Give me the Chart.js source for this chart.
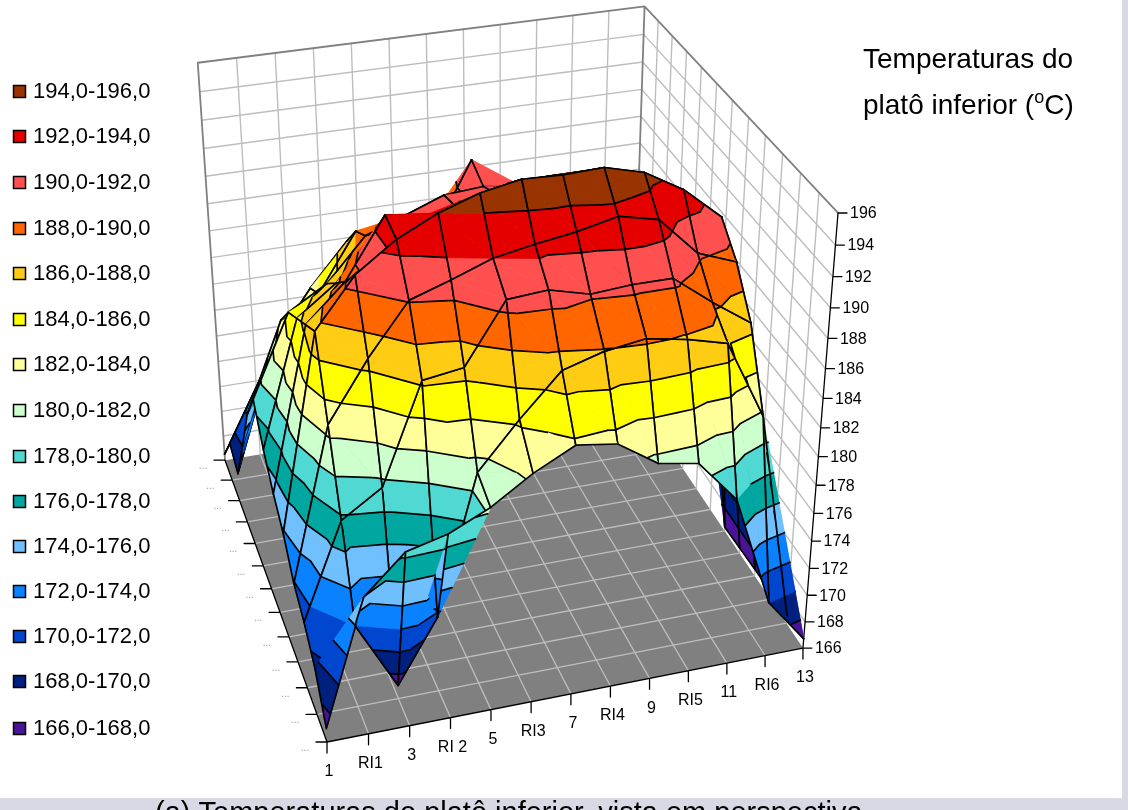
<!DOCTYPE html>
<html><head><meta charset="utf-8">
<style>html,body{margin:0;padding:0;background:#fff;overflow:hidden}canvas{display:block}</style>
<script src="https://cdn.jsdelivr.net/npm/chart.js@4/dist/chart.umd.min.js"></script>
</head><body><canvas id="c" width="1128" height="810"></canvas>
<script>
// Temperatures: one list per row of the plate, front to back
const row01=[167.0,175.9,178.5,179.2,180.5,182.3,183.7,183.3,181.5,181.0,178.0,170.0,166.7];
const row02=[169.5,172.0,167.0,171.5,181.2,184.3,187.1,187.9,188.3,187.8,187.1,181.7,166.6];
const row03=[170.9,177.7,179.5,186.3,186.7,190.7,190.9,190.2,190.4,190.4,188.4,186.6,166.5];
const row04=[171.9,182.7,186.7,190.1,191.0,192.0,192.5,192.9,193.5,192.9,190.3,189.3,166.5];
const row05=[173.8,187.5,190.8,192.7,194.0,194.9,195.4,195.3,195.4,194.7,193.2,191.0,166.4];
const row06=[175.0,186.5,189.0,193.0,192.6,192.5,193.9,194.0,194.0,193.5,191.5,189.5,166.3];
const row07=[176.6,185.5,187.5,190.5,191.0,191.5,192.0,192.0,192.0,191.5,189.5,187.0,184.0];
const row08=[178.7,184.5,186.1,189.0,190.0,191.0,191.2,190.8,190.0,189.5,187.5,185.0,182.0];
const row09=[176.0,182.5,184.0,188.0,188.0,187.0,191.8,187.0,188.0,187.5,186.0,184.0,181.0];
const row10=[172.0,179.4,183.0,186.0,186.0,186.0,186.0,186.0,186.0,186.0,185.0,183.0,180.0];
const row11=[168.2,176.3,180.0,183.0,184.0,184.0,184.0,184.0,184.0,184.0,183.0,181.0,178.0];
const row12=[169.0,174.0,177.0,180.0,181.0,181.0,181.0,181.0,181.0,181.0,180.0,178.0,175.0];
const row13=[166.5,171.0,175.0,178.0,179.0,178.0,178.0,178.0,178.0,178.0,177.0,175.0,172.0];
const categories=['1','RI1','3','RI 2','5','RI3','7','RI4','9','RI5','11','RI6','13'];
const zTicks=[166,168,170,172,174,176,178,180,182,184,186,188,190,192,194,196];
const rowLabels=['...','...','...','...','...','...','...','...','...','...','...','...','...'];
const bandLabels=['166,0-168,0','168,0-170,0','170,0-172,0','172,0-174,0','174,0-176,0','176,0-178,0','178,0-180,0','180,0-182,0','182,0-184,0','184,0-186,0','186,0-188,0','188,0-190,0','190,0-192,0','192,0-194,0','194,0-196,0'];
const bandColors=['#4A1499','#00207F','#0046CF','#0A82FF','#70C0FF','#00A6A0','#50D8D2','#CCFFCC','#FFFF99','#FFFF00','#FFCC14','#FF6600','#FF5050','#E50000','#993300'];
const legendY=[729,682,637,592,547,502,457,411,365,320,274,229,183,137,92];

const grid=[row01,row02,row03,row04,row05,row06,row07,row08,row09,row10,row11,row12,row13];
const NI=12,NJ=12,ZMIN=166,ZSPAN=30;

// perspective box -> picture coordinates
function proj(i,j,t){
  const x=i/NI,y=j/NJ,z=(t-ZMIN)/ZSPAN;
  const w=1+0.05124*x+0.1917*y-0.1083*z;
  return {x:(327+517.1*x-58.85*y-53.9*z)/w,y:(742-60.77*x-193.6*y-480.4*z)/w};
}
function depth(i,j,t){return 1+0.05124*i/NI+0.1917*j/NJ-0.1083*(t-ZMIN)/ZSPAN;}
const GAP={x:NaN,y:NaN};
const painted=[];
function poly(pts,fill,edge,bw){
  painted.push({type:'line',data:[...pts,pts[0]],backgroundColor:fill,borderColor:edge||fill,borderWidth:bw===undefined?0.7:bw,
    fill:'shape',pointRadius:0,tension:0,borderDash:[5000,1],clip:false,spanGaps:false});
}
function lines(pts,color,bw){
  painted.push({type:'line',data:pts,borderColor:color,borderWidth:bw,fill:false,pointRadius:0,tension:0,
    borderDash:[5000,1],clip:false,spanGaps:false,borderCapStyle:'round',borderJoinStyle:'round'});
}
// walls
const WHITE='#FFFFFF',WALL='#BDBDBD',EDGE='#808080';
poly([proj(0,NJ,ZMIN),proj(NI,NJ,ZMIN),proj(NI,NJ,196),proj(0,NJ,196)],WHITE,WHITE,0);
poly([proj(NI,0,ZMIN),proj(NI,NJ,ZMIN),proj(NI,NJ,196),proj(NI,0,196)],WHITE,WHITE,0);
{
  const a=[];
  for(let i=1;i<NI;i++){a.push(proj(i,NJ,ZMIN),proj(i,NJ,196),GAP);}
  for(let j=1;j<NJ;j++){a.push(proj(NI,j,ZMIN),proj(NI,j,196),GAP);}
  for(const t of zTicks.slice(1,-1)){a.push(proj(0,NJ,t),proj(NI,NJ,t),proj(NI,0,t),GAP);}
  lines(a,WALL,1.4);
  lines([proj(0,NJ,ZMIN),proj(0,NJ,196),proj(NI,NJ,196),proj(NI,0,196),GAP,proj(NI,NJ,196),proj(NI,NJ,ZMIN)],EDGE,1.8);
}
// floor
poly([proj(0,0,ZMIN),proj(NI,0,ZMIN),proj(NI,NJ,ZMIN),proj(0,NJ,ZMIN)],'#808080','#808080',0);
{
  const a=[];
  for(let i=1;i<NI;i++){a.push(proj(i,0,ZMIN),proj(i,NJ,ZMIN),GAP);}
  for(let j=1;j<NJ;j++){a.push(proj(0,j,ZMIN),proj(NI,j,ZMIN),GAP);}
  lines(a,'#BDBDBD',1.3);
}
// axis lines and ticks
{
  const a=[proj(0,NJ,ZMIN),proj(0,0,ZMIN),proj(NI,0,ZMIN),proj(NI,0,196),GAP];
  for(let i=0;i<=NI;i++){const p=proj(i,0,ZMIN);a.push(p,{x:p.x,y:p.y+11},GAP);}
  for(let j=0;j<=NJ;j++){const p=proj(0,j,ZMIN);a.push(p,{x:p.x-11,y:p.y},GAP);}
  for(const t of zTicks){const p=proj(NI,0,t);a.push(p,{x:p.x+9,y:p.y},GAP);}
  lines(a,'#000000',1.3);
}
// surface: triangles, back to front
const tris=[];
for(let j=0;j<NJ;j++)for(let i=0;i<NI;i++){
  const v=(a,b)=>({i:a,j:b,t:grid[b][a]});
  tris.push({p:[v(i,j),v(i+1,j),v(i,j+1)],e:[[0,1],[0,2]]});
  tris.push({p:[v(i+1,j+1),v(i+1,j),v(i,j+1)],e:[[0,1],[0,2]]});
}
for(const tr of tris){tr.d=tr.p.reduce((s,q)=>s+depth(q.i,q.j,q.t),0)/3;}
tris.sort((a,b)=>b.d-a.d);
function mix(a,b,f){return {i:a.i+(b.i-a.i)*f,j:a.j+(b.j-a.j)*f,t:a.t+(b.t-a.t)*f};}
function clip(pg,lvl,keepAbove){
  const out=[];
  for(let k=0;k<pg.length;k++){
    const a=pg[k],b=pg[(k+1)%pg.length];
    const ina=keepAbove?a.t>=lvl:a.t<=lvl,inb=keepAbove?b.t>=lvl:b.t<=lvl;
    if(ina)out.push(a);
    if(ina!==inb)out.push(mix(a,b,(lvl-a.t)/(b.t-a.t)));
  }
  return out;
}
const P=q=>proj(q.i,q.j,q.t);
for(const tr of tris){
  for(let b=0;b<bandColors.length;b++){
    const lo=ZMIN+2*b;
    let pg=clip(tr.p,lo,true);
    if(pg.length>2)pg=clip(pg,lo+2,false);
    if(pg.length>2)poly(pg.map(P),bandColors[b]);
  }
  const a=[];
  for(const L of zTicks.slice(1,-1)){
    const hit=[];
    for(let k=0;k<3;k++){
      const p=tr.p[k],q=tr.p[(k+1)%3];
      if((p.t-L)*(q.t-L)<0)hit.push(mix(p,q,(L-p.t)/(q.t-p.t)));
    }
    if(hit.length===2)a.push(P(hit[0]),P(hit[1]),GAP);
  }
  for(const [m,n] of tr.e)a.push(P(tr.p[m]),P(tr.p[n]),GAP);
  lines(a,'#000000',1.7);
}

const textPlugin={id:'texts',
  beforeDraw(ch){const c=ch.ctx;c.save();c.fillStyle='#FFFFFF';c.fillRect(0,0,1128,810);
    c.fillStyle='#D9D9E5';c.fillRect(1122,0,6,810);c.fillRect(0,798,1128,12);c.restore();},
  afterDraw(ch){
    const c=ch.ctx,sx=ch.scales.x,sy=ch.scales.y;
    const at=p=>({x:sx.getPixelForValue(p.x),y:sy.getPixelForValue(p.y)});
    c.save();c.fillStyle='#000';c.textBaseline='middle';c.textAlign='left';
    // legend
    c.font='22px "Liberation Sans"';
    bandLabels.forEach((s,k)=>{
      const y=legendY[k];
      c.fillStyle=bandColors[k];c.fillRect(13.5,y-6.5,12,12);
      c.strokeStyle='#000';c.lineWidth=1.5;c.strokeRect(13.5,y-6.5,12,12);
      c.fillStyle='#000';c.fillText(s,33,y);
    });
    // value axis
    c.font='16px "Liberation Sans"';
    zTicks.forEach(t=>{const p=at(proj(NI,0,t));c.fillText(String(t),p.x+12,p.y+1);});
    // category axis
    c.textAlign='center';
    categories.forEach((s,i)=>{const p=at(proj(i,0,ZMIN));c.fillText(s,p.x+2,p.y+30);});
    // row axis
    c.fillStyle='#999';c.font='10px "Liberation Sans"';
    rowLabels.forEach((s,j)=>{const p=at(proj(0,j,ZMIN));c.fillText(s,p.x-22,p.y+6);});
    // title
    c.fillStyle='#000';c.textAlign='left';c.textBaseline='alphabetic';c.font='28px "Liberation Sans"';
    c.fillText('Temperaturas do',863,68);
    let x=863;const b=114;
    const t1='platô inferior (';c.fillText(t1,x,b);x+=c.measureText(t1).width;
    c.font='18px "Liberation Sans"';c.fillText('o',x,b-11);x+=c.measureText('o').width;
    c.font='28px "Liberation Sans"';c.fillText('C)',x,b);
    // caption, cut by the picture edge
    c.font='29px "Liberation Sans"';c.fillText('(a) Temperaturas do platô inferior, vista em perspectiva',155,822);
    c.restore();
  }};

new Chart(document.getElementById('c'),{
  type:'line',
  data:{datasets:painted.slice().reverse()},
  options:{responsive:false,animation:false,events:[],devicePixelRatio:1,
    layout:{padding:0},
    plugins:{legend:{display:false},tooltip:{enabled:false},title:{display:false}},
    scales:{x:{type:'linear',min:0,max:1128,display:false},y:{type:'linear',min:0,max:810,reverse:true,display:false}}},
  plugins:[textPlugin]
});
</script></body></html>
